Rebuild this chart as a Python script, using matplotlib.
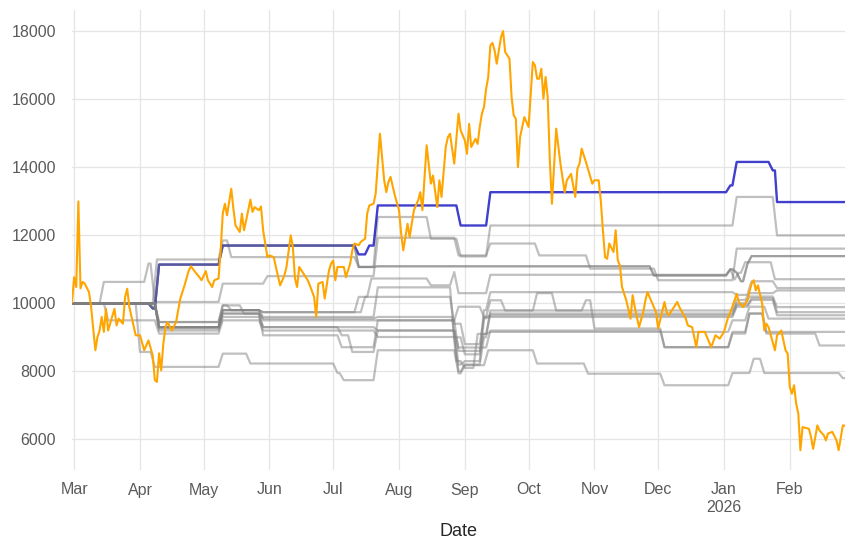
import matplotlib
matplotlib.use("Agg")
import matplotlib.pyplot as plt
import pandas as pd

plt.rcParams['font.family'] = ['Liberation Sans', 'DejaVu Sans']

BASE = "2025-03-01"
END_DAY = 363

# price series: day offset from 2025-03-01 and value
price_days = [-1, 0, 1, 2, 3, 4, 5, 7, 8, 10, 11, 12, 13, 14, 15, 16, 19, 20, 21, 23, 24, 25, 26, 29, 31, 33, 35, 37, 38, 39,
              40, 41, 42, 43, 44, 46, 48, 50, 52, 54, 55, 57, 59, 60, 62, 63, 65, 66, 68, 69, 70, 71, 72, 74, 75, 76, 78, 79, 80, 81,
              83, 84, 85, 87, 88, 89, 91, 92, 94, 95, 97, 99, 100, 102, 103, 104, 105, 106, 110, 111, 113, 114, 115, 117, 118, 120, 121, 122, 123, 124,
              127, 128, 130, 131, 132, 134, 135, 137, 138, 139, 141, 142, 144, 146, 147, 148, 149, 151, 153, 154, 155, 157, 158, 160, 162, 163, 164, 165, 166, 168,
              169, 171, 172, 173, 175, 176, 177, 179, 181, 182, 184, 185, 186, 187, 189, 190, 191, 192, 193, 194, 195, 196, 197, 198, 199, 201, 202, 203, 205, 206,
              207, 208, 209, 210, 212, 214, 216, 217, 218, 219, 220, 221, 222, 223, 224, 225, 227, 229, 231, 232, 234, 236, 237, 238, 239, 241, 244, 245, 247, 248,
              249, 250, 251, 252, 254, 255, 256, 257, 258, 260, 262, 263, 264, 266, 268, 269, 270, 273, 274, 275, 278, 279, 280, 284, 285, 288, 289, 291, 293, 294,
              297, 300, 302, 304, 305, 306, 308, 309, 311, 312, 313, 315, 317, 318, 319, 320, 321, 322, 324, 325, 326, 327, 330, 331, 333, 335, 336, 337, 338, 339,
              340, 341, 342, 343, 346, 347, 348, 350, 351, 353, 354, 355, 357, 359, 360, 362, 363]
price_values = [10040, 10770, 10480, 13000, 10440, 10630, 10580, 10330, 9890, 8620, 9010, 9200, 9600, 9160, 9840, 9200, 9840, 9350, 9550, 9400, 10190, 10430, 9890, 9060, 9060, 8620, 8910, 8470, 7740, 7690,
                8530, 8030, 8810, 9300, 9450, 9200, 9450, 10140, 10530, 10970, 11090, 10920, 10770, 10680, 10950, 10680, 10480, 10680, 10730, 11560, 12640, 12930, 12590, 13370, 12780, 12290, 12100, 12640, 12150, 12440,
                13050, 12690, 12830, 12740, 12850, 12150, 11360, 11410, 11360, 11070, 10530, 10820, 11070, 12000, 11660, 10730, 10480, 11070, 10680, 10530, 10190, 9600, 10580, 10630, 10140, 10970, 11170, 11260, 10680, 11070,
                11070, 10770, 11170, 11560, 11760, 11710, 11810, 11900, 12640, 12880, 12930, 13230, 14990, 13620, 13270, 13570, 13720, 13180, 12740, 12050, 11560, 12340, 11950, 12740, 13030, 13270, 12740, 13720, 14650, 13520,
                13760, 12830, 13620, 13130, 14600, 14890, 14990, 14110, 15580, 15090, 14790, 14400, 15280, 14600, 14840, 14690, 15190, 15580, 15770, 16310, 16660, 17590, 17660, 17440, 17050, 17830, 18010, 17390, 17200, 16070,
                15530, 15430, 14010, 14890, 15480, 15190, 17100, 17000, 16610, 16610, 16900, 16020, 16660, 16070, 14210, 12930, 15140, 14110, 13270, 13620, 13810, 13130, 13960, 14110, 14550, 14160, 13520, 13620, 13620, 13030,
                12150, 11360, 11310, 11760, 11510, 12150, 11260, 11120, 10480, 10090, 9550, 10240, 9890, 9300, 9740, 10090, 10330, 9890, 9740, 9260, 10040, 9740, 9650, 10040, 9890, 9550, 9350, 9300, 8710, 9160,
                9160, 8710, 9060, 8960, 9060, 9160, 9600, 9740, 10090, 10280, 10040, 9890, 10090, 10330, 10580, 10680, 10380, 10530, 9990, 9200, 9400, 9300, 8620, 9060, 9200, 8620, 8520, 7540, 7340, 7590,
                7050, 6760, 5680, 6360, 6310, 6070, 5720, 6410, 6260, 6120, 5970, 6170, 6220, 5970, 5680, 6410, 6400]

# strategy equity curves: (day offset, level reached on that day)
highlight_strategy = [(-1, 10000), (35, 10000), (37, 9850), (40, 11140), (68, 11140), (70, 11700), (131, 11700), (134, 11440),
                      (137, 11440), (139, 11700), (143, 12880), (180, 12880), (182, 12290), (193, 12290), (196, 13270),
                      (307, 13270), (309, 13470), (312, 14160), (327, 14160), (329, 13910), (330, 13910), (331, 12980)]

strategy_01 = [(-1, 10000), (37, 10000), (39, 11290), (68, 11290), (70, 11850), (72, 11850), (74, 11360), (131, 11360), (134, 11070),
               (137, 11070), (143, 12540), (165, 12540), (168, 11900), (179, 11900), (182, 11380), (193, 11380), (196, 12290),
               (307, 12290), (312, 13130), (327, 13130), (331, 12000)]
strategy_02 = [(-1, 10000), (12, 10000), (14, 10630), (33, 10630), (35, 11170), (38, 10040), (68, 10040), (70, 10580),
               (89, 10580), (91, 10800), (131, 10800), (143, 11930), (177, 11930), (181, 11410), (193, 11410), (196, 11760),
               (216, 11760), (219, 11410), (240, 11410), (243, 11020), (272, 11020), (275, 10680), (307, 10680), (312, 11610)]
strategy_03 = [(-1, 10000), (35, 10000), (37, 9850), (40, 11140), (68, 11140), (70, 11700), (131, 11700), (134, 11070),
               (140, 11070), (143, 11090), (270, 11090), (273, 10820), (307, 10820), (309, 11000), (312, 10900),
               (314, 10650), (317, 11150), (319, 11390)]
strategy_04 = [(-1, 10000), (35, 10000), (37, 9900), (40, 9450), (68, 9450), (70, 9940), (74, 9800), (89, 9740), (131, 9740),
               (134, 10190), (140, 10730), (166, 10730), (168, 10530), (177, 10530), (179, 10920), (181, 10300), (193, 10300),
               (196, 10840), (307, 10840), (309, 11000), (311, 10700), (313, 10900), (316, 11210), (327, 11210), (330, 10710)]
strategy_05 = [(-1, 10000), (38, 10000), (40, 9300), (68, 9300), (70, 9800), (87, 9800), (89, 9600), (131, 9600),
               (143, 10470), (166, 10470), (179, 9000), (184, 8500), (193, 9800), (196, 10330), (307, 10330),
               (312, 10250), (319, 10650), (327, 10650), (331, 10450)]
strategy_06 = [(-1, 10000), (38, 10000), (40, 9300), (68, 9300), (70, 9800), (87, 9800), (89, 9740), (131, 9740),
               (137, 10190), (177, 10190), (179, 9400), (184, 8800), (193, 9600), (196, 10090), (201, 10090), (203, 9790),
               (216, 9790), (218, 10300), (225, 10300), (227, 9790), (307, 9790), (312, 10100), (318, 10300), (327, 10300),
               (331, 10380)]
strategy_07 = [(-1, 10000), (38, 10000), (40, 9260), (68, 9260), (70, 9700), (87, 9700), (89, 9550), (131, 9550),
               (143, 9600), (177, 9600), (180, 8300), (184, 8100), (190, 9100), (196, 9700), (307, 9700), (312, 10000),
               (318, 10200), (327, 10200), (331, 9890)]
strategy_08 = [(-1, 10000), (38, 10000), (40, 9300), (68, 9300), (70, 9800), (87, 9800), (89, 9500), (131, 9500),
               (143, 9500), (177, 9500), (181, 9900), (190, 9900), (193, 9600), (196, 9650), (307, 9650), (312, 9950),
               (319, 10150), (327, 10150), (331, 9740)]
strategy_09 = [(-1, 10000), (38, 10000), (40, 9200), (68, 9200), (70, 9600), (87, 9600), (89, 9300), (131, 9300),
               (143, 9200), (177, 9200), (181, 8200), (184, 8300), (193, 9560), (196, 9600), (307, 9600), (312, 9900),
               (319, 10100), (327, 10100), (331, 9650)]
strategy_10 = [(-1, 10000), (14, 10000), (16, 9500), (33, 9500), (40, 9110), (68, 9110), (70, 9500), (87, 9500), (89, 9200),
               (131, 9200), (143, 9010), (177, 9010), (181, 8000), (184, 8200), (193, 9000), (196, 9790), (238, 9790),
               (241, 10090), (245, 9260), (275, 9260), (278, 8710), (307, 8710), (310, 9160), (316, 9160), (318, 9700),
               (323, 9700), (326, 9160)]
strategy_11 = [(-1, 10000), (38, 10000), (40, 9300), (68, 9300), (70, 9700), (87, 9700), (89, 9300), (122, 9300),
               (126, 9060), (131, 8570), (143, 9200), (177, 9200), (181, 8700), (193, 8700), (196, 9200), (272, 9200),
               (278, 8710), (307, 8710), (310, 9110), (316, 9110), (318, 9700), (323, 9700), (326, 9110), (349, 9110),
               (351, 8760)]
strategy_12 = [(-1, 10000), (29, 10000), (31, 8570), (36, 8570), (38, 8130), (68, 8130), (70, 8520), (80, 8520), (83, 8230),
               (122, 8230), (124, 7950), (127, 7740), (131, 7740), (143, 8620), (176, 8620), (181, 7940), (184, 8180),
               (193, 8180), (195, 8620), (216, 8620), (218, 8230), (240, 8230), (242, 7930), (275, 7930), (278, 7590),
               (307, 7590), (310, 7950), (318, 7950), (320, 8370), (323, 8370), (325, 7950), (360, 7950), (362, 7800)]
strategy_13 = [(-1, 10000), (38, 10000), (40, 9450), (68, 9450), (70, 9940), (78, 9940), (80, 9700), (87, 9700), (89, 9060),
               (122, 9060), (126, 8710), (131, 8710), (143, 9500), (177, 9500), (181, 8600), (190, 8600), (193, 9100),
               (196, 9160), (307, 9160), (310, 9500), (318, 9900), (323, 9900), (327, 9550)]

gray_strategies = [strategy_01, strategy_02, strategy_03, strategy_04, strategy_05, strategy_06, strategy_07,
                   strategy_08, strategy_09, strategy_10, strategy_11, strategy_12, strategy_13]

RAMP = 2


def to_dates(days):
    return pd.Timestamp(BASE) + pd.to_timedelta(days, unit="D")


def corners(pairs):
    pts = [pairs[0]]
    for d1, v1 in pairs[1:]:
        d0, v0 = pts[-1]
        if v1 != v0 and d1 - RAMP > d0:
            pts.append((d1 - RAMP, v0))
        pts.append((d1, v1))
    if pts[-1][0] < END_DAY:
        pts.append((END_DAY, pts[-1][1]))
    days = [p[0] for p in pts]
    vals = [p[1] for p in pts]
    return to_dates(days), vals


fig = plt.figure(figsize=(8.55, 5.51), dpi=100)
ax = fig.add_axes([72 / 855, 81 / 551, (845 - 72) / 855, 460 / 551])

for s in gray_strategies[:3]:
    x, y = corners(s)
    ax.plot(x, y, color="gray", alpha=0.5, lw=1.6, zorder=2)
x, y = corners(highlight_strategy)
ax.plot(x, y, color="#0000bb", alpha=0.75, lw=1.7, zorder=2)
x, y = corners(strategy_03)
ax.plot(x, y, color="gray", alpha=0.5, lw=1.6, zorder=2)
for s in gray_strategies[3:]:
    x, y = corners(s)
    ax.plot(x, y, color="gray", alpha=0.5, lw=1.6, zorder=2)

ax.plot(to_dates(price_days), price_values, color="orange", lw=1.5, zorder=3)

ax.set_xlim(to_dates([-1])[0], to_dates([END_DAY])[0])
ax.set_ylim(5097, 18630)

months = pd.date_range("2025-03-01", "2026-02-01", freq="MS")
labels = [m.strftime("%b") + ("\n2026" if m.month == 1 else "") for m in months]
ax.set_xticks(months)
ax.set_xticklabels(labels)
ax.set_yticks(range(6000, 18001, 2000))
ax.set_yticklabels([str(v) for v in range(6000, 18001, 2000)])

ax.grid(True, color="#e5e5e5", lw=0.9, zorder=0)
ax.set_axisbelow(True)
for sp in ax.spines.values():
    sp.set_visible(False)
ax.tick_params(axis="both", length=0, labelsize=11.5, labelcolor="#5a5a5a")
ax.tick_params(axis="x", pad=9)
ax.tick_params(axis="y", pad=11.5)
ax.set_xlabel("Date", fontsize=13, color="#262626", labelpad=6)

fig.savefig("out.png", dpi=100)
